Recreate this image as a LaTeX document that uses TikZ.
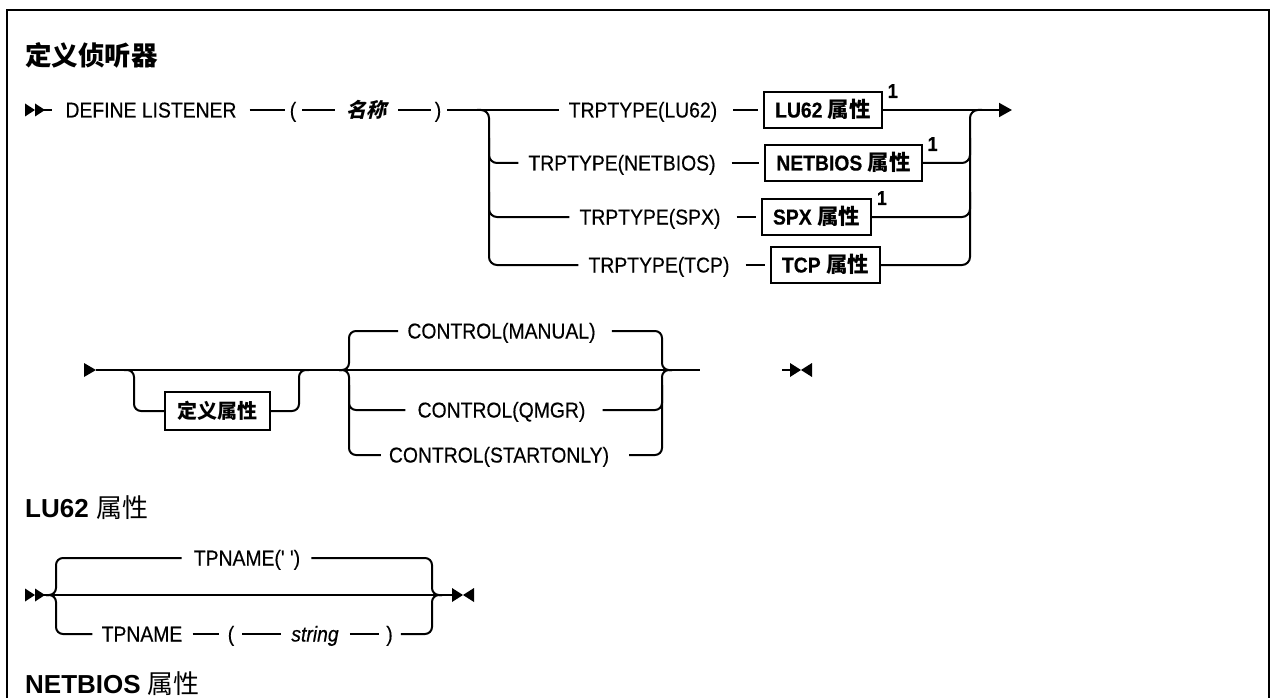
\documentclass[tikz,border=0pt]{standalone}
\usepackage{fontspec}
\setmainfont{Liberation Sans}[Ligatures=TeXOff, FakeStretch=0.9, FakeBold=0.4]
\newfontfamily\headfont{Liberation Sans}[Ligatures=TeXOff]
\newfontfamily\cjk{Noto Sans CJK SC}
\newfontfamily\cjkit{Noto Sans CJK SC}[FakeSlant=0.25]
\usetikzlibrary{arrows.meta}
\tikzset{
  rail/.style={line width=2pt},
  txt/.style={inner sep=0pt, text height=15pt, text depth=0pt, font=\fontsize{21.5}{25}\selectfont},
  kbox/.style={draw, line width=1.8pt, inner xsep=11pt, inner ysep=0pt, text height=15pt, text depth=0pt, minimum height=36pt, font=\fontsize{21.5}{25}\selectfont\bfseries},
  supnum/.style={inner sep=0pt, font=\fontsize{20}{22}\selectfont\bfseries},
  heading/.style={inner sep=0pt, anchor=west, font=\fontsize{26}{30}\selectfont\headfont\bfseries},
  pics/startdbl/.style={code={
    \fill (0,-6.5) -- (10,0) -- (0,6.5) -- cycle;
    \fill (10,-6.5) -- (20,0) -- (10,6.5) -- cycle;
    \draw[rail] (19,0) -- (27,0);
  }},
  pics/startone/.style={code={
    \fill (0,-7) -- (12,0) -- (0,7) -- cycle;
  }},
  pics/endsym/.style={code={
    \draw[rail] (0,0) -- (9,0);
    \fill (8,-7) -- (19,0) -- (8,7) -- cycle;
    \fill (30,-7) -- (19,0) -- (30,7) -- cycle;
  }},
}
\begin{document}
\begin{tikzpicture}[x=1pt,y=-1pt]
\useasboundingbox (0,0) rectangle (1275,698);
\begin{scope}
  \clip (0,0) rectangle (1275,698);
  \draw[line width=2.5pt] (7,10) rectangle (1269,730);
\end{scope}

\node[heading, font=\fontsize{26.5}{30}\selectfont\cjk\bfseries] (title) at (25,55) {定义侦听器};

% ---------- section 1
\pic at (25,110) {startdbl};
\node[txt] (define) at (151,110) {DEFINE LISTENER};
\node[txt] (lp) at (293,110) {(};
\node[txt, font=\fontsize{20}{24}\selectfont\cjkit\bfseries] (nm) at (366,110) {名称};
\node[txt] (rp) at (438,110) {)};
\draw[rail, shorten <=13pt, shorten >=5pt] (define.east) -- (lp.west);
\draw[rail, shorten <=6pt, shorten >=11pt] (lp.east) -- (nm.west);
\draw[rail, shorten <=12pt, shorten >=4pt] (nm.east) -- (rp.west);

\node[txt] (t1) at (643,110) {TRPTYPE(LU62)};
\node[txt] (t2) at (622,163) {TRPTYPE(NETBIOS)};
\node[txt] (t3) at (650,217) {TRPTYPE(SPX)};
\node[txt] (t4) at (659,265) {TRPTYPE(TCP)};
\draw[rail, shorten <=6pt, shorten >=10pt] (rp.east) -- (t1.west);

\coordinate (fL) at (489,110);
\draw[rail, rounded corners=8pt, shorten >=10pt] (fL) ++(-12,0) -- (fL) -- (fL |- t4) -- (t4.west);
\draw[rail, rounded corners=8pt, shorten >=10pt] (fL |- t2) ++(0,-25) -- (fL |- t2) -- (t2.west);
\draw[rail, rounded corners=8pt, shorten >=10pt] (fL |- t3) ++(0,-25) -- (fL |- t3) -- (t3.west);

\node[kbox] (b1) at (823,110) {LU62 {\cjk 属性}};
\node[kbox] (b2) at (843.5,163) {NETBIOS {\cjk 属性}};
\node[kbox] (b3) at (816.5,217) {SPX {\cjk 属性}};
\node[kbox] (b4) at (825.5,265) {TCP {\cjk 属性}};
\foreach \i in {1,...,4} \draw[rail, shorten <=16pt, shorten >=5pt] (t\i.east) -- (b\i.west);

\node[supnum] (n1) at ([shift={(10,0)}]b1.north east) {1};
\node[supnum] (n2) at ([shift={(10,0)}]b2.north east) {1};
\node[supnum] (n3) at ([shift={(10,0)}]b3.north east) {1};

\coordinate (fR) at (970,110);
\coordinate (a1) at (1012,110);
\draw[rail, -{Triangle[length=13pt,width=14pt]}] (b1.east) -- (a1);
\draw[rail, rounded corners=8pt] (b4.east) -- (fR |- b4) -- (fR) -- ++(12,0);
\draw[rail, rounded corners=8pt] (b2.east) -- (fR |- b2) -- ++(0,-25);
\draw[rail, rounded corners=8pt] (b3.east) -- (fR |- b3) -- ++(0,-25);

% ---------- section 2
\pic at (84,370) {startone};
\coordinate (s2) at (96,370);
\coordinate (e2) at (700,370);
\draw[rail] (s2) -- (e2);

\node[kbox, minimum height=38pt, inner xsep=12.5pt, font=\fontsize{20}{24}\selectfont\cjk\bfseries] (bdef) at (217.5,411) {定义属性};
\coordinate (oL) at (134,370);
\coordinate (oR) at (299,370);
\draw[rail, rounded corners=7pt] (oL) ++(-10,0) -- (oL) -- (oL |- bdef) -- (bdef.west);
\draw[rail, rounded corners=7pt] (bdef.east) -- (oR |- bdef) -- (oR) -- ++(10,0);

\coordinate (cL) at (349,370);
\coordinate (cR) at (662,370);
\node[txt] (cm) at (501.5,331) {CONTROL(MANUAL)};
\node[txt] (cq) at (501.5,410) {CONTROL(QMGR)};
\node[txt] (cs) at (499,455) {CONTROL(STARTONLY)};
\draw[rail, rounded corners=7pt, shorten >=9pt] (cL) ++(-10,0) -- (cL) -- (cL |- cm) -- (cm.west);
\draw[rail, rounded corners=7pt, shorten >=8pt] (cL) ++(-10,0) -- (cL) -- (cL |- cs) -- (cs.west);
\draw[rail, rounded corners=7pt, shorten >=12pt] (cL |- cq) ++(0,-25) -- (cL |- cq) -- (cq.west);
\draw[rail, rounded corners=7pt, shorten <=16pt] (cm.east) -- (cR |- cm) -- (cR) -- ++(10,0);
\draw[rail, rounded corners=7pt, shorten <=20pt] (cs.east) -- (cR |- cs) -- (cR) -- ++(10,0);
\draw[rail, rounded corners=7pt, shorten <=17pt] (cq.east) -- (cR |- cq) -- ++(0,-25);

\pic at (782,370) {endsym};

% ---------- section 3
\node[heading] (h2) at (25,508) {LU62 {\cjk\mdseries 属性}};
\pic at (25,595) {startdbl};
\coordinate (s3) at (45,595);
\coordinate (e3) at (452,595);
\draw[rail] (s3) -- (e3);
\pic at (444,595) {endsym};

\coordinate (kL) at (56,595);
\coordinate (kR) at (432,595);
\node[txt] (tp1) at (247,558) {TPNAME(' ')};
\draw[rail, rounded corners=7pt, shorten >=12pt] (kL) ++(-10,0) -- (kL) -- (kL |- tp1) -- (tp1.west);
\draw[rail, rounded corners=7pt, shorten <=11pt] (tp1.east) -- (kR |- tp1) -- (kR) -- ++(10,0);

\node[txt] (tpn) at (142,634) {TPNAME};
\node[txt] (lp3) at (231,634) {(};
\node[txt, font=\fontsize{21.5}{25}\selectfont\itshape] (str) at (315,634) {string};
\node[txt] (rp3) at (389.5,634) {)};
\draw[rail, rounded corners=7pt, shorten >=9pt] (kL) ++(-10,0) -- (kL) -- (kL |- tpn) -- (tpn.west);
\draw[rail, shorten <=10pt, shorten >=9pt] (tpn.east) -- (lp3.west);
\draw[rail, shorten <=8pt, shorten >=10pt] (lp3.east) -- (str.west);
\draw[rail, shorten <=11pt, shorten >=7pt] (str.east) -- (rp3.west);
\draw[rail, rounded corners=7pt, shorten <=8pt] (rp3.east) -- (kR |- rp3) -- (kR) -- ++(10,0);

\node[heading] (h3) at (25,684) {NETBIOS {\cjk\mdseries 属性}};
\end{tikzpicture}
\end{document}
